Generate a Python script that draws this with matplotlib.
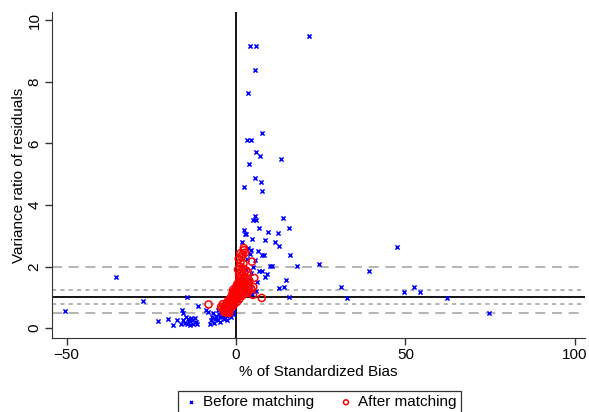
import matplotlib
matplotlib.use("Agg")
import matplotlib.pyplot as plt

plt.rcParams["font.family"] = ["Liberation Sans", "DejaVu Sans"]

# before matching: (% standardized bias, variance ratio)
before_x = [21.5, 4.1, 5.9, 5.6, 3.5, 7.6, 3.2, 4.3, 5.8, 7.0, 13.3, 3.9, 5.7, 7.4, 2.5, 7.7,
            5.5, 4.9, 5.9, 14.0, 6.9, 15.7, 2.6, 3.0, 9.4, 12.4, 4.6, 8.5, 11.6, 12.8, 4.5, 6.4,
            7.8, 8.4, 15.9, 3.2, 9.9, 10.6, 17.9, 24.5, 6.9, 7.7, 9.1, 8.6, 6.1, 14.7, 14.3, 12.6,
            15.6, 47.4, 39.3, 30.9, 52.4, 49.5, 54.3, 32.8, 62.2, 74.7, -14.5, -11.1, -16.0, -15.7,
            -8.9, -8.2, -22.9, -20.0, -18.7, -17.5, -50.4, -35.5, -27.5,
            -15.5, -15.0, -14.6, -14.2, -13.8, -13.5, -13.0, -12.6, -12.2, -11.8, -11.4, -14.8, -13.2, -16.2,
            -7.5, -7.0, -6.6, -6.2, -5.8, -5.4, -5.0, -4.6, -4.2, -3.8, -3.4, -3.0, -2.6, -2.2, -1.8,
            -1.4, -1.0, -0.6, -5.2, -6.8, -4.8, -2.8, -7.8, -3.5, -1.5, -0.8,
            0.5, 1.2, 2.0, 3.0, 3.8, 4.2, 2.8, 3.6, 4.5, 2.2, 1.5, 0.8, 5.5, 4.0, 5.0, 3.4, 6.0, 4.8, 1.8, 2.4]
before_y = [9.48, 9.16, 9.16, 8.38, 7.63, 6.34, 6.10, 6.10, 5.71, 5.59, 5.48, 5.33, 4.88, 4.74, 4.58, 4.44,
            3.63, 3.51, 3.51, 3.56, 3.25, 3.25, 3.05, 3.05, 3.13, 3.10, 2.88, 2.86, 2.79, 2.67, 2.55, 2.49,
            2.38, 2.38, 2.39, 2.23, 2.01, 2.01, 2.02, 2.08, 1.86, 1.86, 1.77, 1.65, 1.50, 1.55, 1.35, 1.31,
            1.00, 2.64, 1.85, 1.33, 1.33, 1.18, 1.17, 0.97, 0.98, 0.50, 1.00, 0.72, 0.58, 0.50,
            0.60, 0.53, 0.24, 0.31, 0.11, 0.26, 0.55, 1.65, 0.88,
            0.28, 0.18, 0.12, 0.30, 0.22, 0.10, 0.25, 0.15, 0.32, 0.20, 0.12, 0.35, 0.33, 0.15,
            0.25, 0.35, 0.18, 0.30, 0.40, 0.28, 0.45, 0.35, 0.52, 0.40, 0.30, 0.45, 0.38, 0.55, 0.45,
            0.60, 0.52, 0.70, 0.60, 0.50, 0.20, 0.25, 0.15, 0.62, 0.35, 0.45,
            1.3, 1.6, 1.8, 1.9, 1.6, 1.4, 1.2, 1.1, 1.8, 2.0, 1.4, 0.9, 2.2, 2.4, 2.0, 2.6, 1.2, 1.1, 2.8, 3.2]

# after matching
after_x = [2.3, 2.4, 1.3, 1.9, 2.7, 4.7, 1.3, 2.2, 2.0, 2.9, 2.4, 3.5, 5.4, 1.0, 5.1, 5.0, 7.6,
           -8.1, -4.4, -2.7, -3.5, -2.0, 0.8, 1.6, 1.1, 1.7, 0.6,
           -3.6, -3.4, -3.3, -3.1, -3.0, -2.9, -2.8, -2.7, -2.6, -2.5, -2.4, -2.3, -2.2, -2.1, -2.0,
           -1.9, -1.8, -1.7, -1.6, -1.5, -1.4, -1.3, -1.2, -1.1, -1.0, -0.9, -0.8, -0.7, -0.6, -0.5,
           -0.4, -0.3, -0.2, -0.1, 0.0, 0.1, 0.2, 0.3, 0.4, 0.5, 0.6, 0.7, 0.8, 0.9, 1.0, 1.1, 1.2,
           1.3, 1.4, 1.5, 1.6, 1.7, 1.8, 1.9, 2.0, 2.1, 2.2, 2.4, 2.5, 2.6, 2.8, 3.0, 3.2, 3.5, 3.8,
           1.2, 0.5, 0.2, -0.5, -1.0, -1.8, -2.5, -1.2, -0.5, 0.3, 1.0, 1.8, 2.6, 3.2, -0.8, 0.0,
           0.8, 1.5, 4.0, 4.5, 3.9, 1.6, 0.9, 2.8, -3.9, -4.1]
after_y = [2.60, 2.53, 2.43, 2.39, 2.45, 2.16, 2.13, 2.10, 1.94, 1.88, 1.77, 1.82, 1.63, 1.61, 1.34, 1.08, 0.98,
           0.77, 0.69, 0.53, 0.52, 0.49, 2.25, 2.30, 2.00, 1.85, 1.90,
           0.62, 0.70, 0.58, 0.75, 0.66, 0.55, 0.80, 0.71, 0.63, 0.85, 0.74, 0.68, 0.90, 0.79, 0.72,
           0.94, 0.84, 0.76, 0.98, 0.88, 0.80, 1.02, 0.92, 0.85, 1.05, 0.95, 0.88, 1.08, 0.99, 0.91,
           1.12, 1.02, 0.94, 1.15, 1.05, 0.97, 1.18, 1.08, 1.00, 1.22, 1.12, 1.04, 1.26, 1.15, 1.07, 1.30, 1.19,
           1.10, 1.34, 1.23, 1.14, 1.38, 1.27, 1.18, 1.42, 1.31, 1.22, 1.46, 1.35, 1.26, 1.50, 1.39, 1.30, 1.45, 1.20,
           1.55, 1.45, 1.38, 1.20, 1.15, 0.60, 0.50, 0.70, 0.78, 0.85, 0.95, 1.05, 1.12, 1.15, 1.25, 1.30,
           1.40, 1.50, 1.35, 1.28, 1.55, 1.70, 1.75, 1.62, 0.78, 0.64]

fig = plt.figure(figsize=(5.89, 4.12), dpi=100)
ax = fig.add_axes([0.0883, 0.1796, 0.905, 0.791])

ax.axhline(2, color="#a8a8a8", lw=1.2, ls=(0, (6, 4)), zorder=1)
ax.axhline(0.5, color="#a8a8a8", lw=1.2, ls=(0, (6, 4)), zorder=1)
ax.axhline(1.25, color="#a8a8a8", lw=1.2, ls=(0, (2.5, 2.5)), zorder=1)
ax.axhline(0.8, color="#a8a8a8", lw=1.2, ls=(0, (2.5, 2.5)), zorder=1)
ax.axhline(1, color="black", lw=1.3, zorder=1)
ax.axvline(0, color="black", lw=1.3, zorder=1)

ax.scatter(before_x, before_y, marker="x", s=9, color="blue", lw=1.1, zorder=3,
           label="Before matching")
ax.scatter(after_x, after_y, marker="o", s=26, facecolors="none", edgecolors="red",
           lw=1.1, zorder=4, label="After matching")

ax.set_xlim(-54.3, 103)
ax.set_ylim(-0.32, 10.26)
ax.set_xticks([-50, 0, 50, 100])
ax.set_yticks([0, 2, 4, 6, 8, 10])
ax.tick_params(direction="out", length=5, width=1, labelsize=11, color="#333333", pad=2.5)
for lab in ax.get_yticklabels():
    lab.set_rotation(90)
    lab.set_va("center")
ax.spines["top"].set_visible(False)
ax.spines["right"].set_visible(False)
ax.spines["left"].set_color("#333333")
ax.spines["bottom"].set_color("#333333")

ax.set_xlabel("% of Standardized Bias", fontsize=11, labelpad=2)
ax.set_ylabel("Variance ratio of residuals", fontsize=11, labelpad=1)

leg = fig.legend(loc="lower center", bbox_to_anchor=(0.543, -0.012), ncol=2, fontsize=11,
                 frameon=True, fancybox=False, edgecolor="black", handletextpad=0.3,
                 handlelength=1.0, columnspacing=1.6, borderpad=0.3, borderaxespad=0.2,
                 markerscale=0.7)
leg.get_frame().set_linewidth(0.9)

fig.savefig("out.png", dpi=100)
